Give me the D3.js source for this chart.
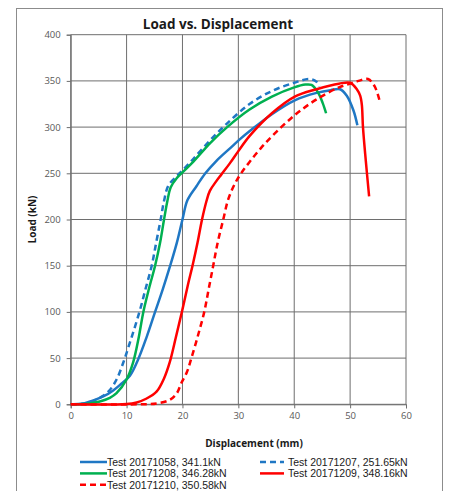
<!DOCTYPE html>
<html><head><meta charset="utf-8">
<script src="https://cdn.jsdelivr.net/npm/d3@7"></script>
<style>body{margin:0;background:#fff}svg{display:block}</style>
</head><body>
<script>
const title = "Load vs. Displacement";
const xTitle = "Displacement (mm)";
const yTitle = "Load (kN)";
const xTicks = [0,10,20,30,40,50,60];
const yTicks = [0,50,100,150,200,250,300,350,400];

const test1058 = [[0,0],[2,0.5],[4,4],[6,9],[7.6,15],[9,22],[10.6,31],[12.1,49],[13.6,73],[15.1,100],[16.5,125],[17.8,150],[19,175],[20,200],[20.9,221],[22.5,236],[24.1,250],[26,263],[28.5,277],[30.3,287],[32.1,296],[36,314],[40.1,329],[44,337],[46.5,340],[48.2,341],[49.4,334],[50.6,318],[51.3,302]];
const test1207 = [[0,0],[2,0.5],[4,3.6],[5.5,8],[7,15.5],[8.3,28],[9.4,45],[10.5,65],[12.3,100],[13.4,125],[14.5,150],[15.3,175],[16.1,200],[16.7,220],[17.5,237],[19,247],[20,253],[22,266],[25,286],[28,304],[32,325],[36,339],[40,348],[42.8,352],[44,349],[44.5,344]];
const test1208 = [[0,0],[3,0.5],[5.2,3],[7,7],[8.2,12],[10,27],[11.2,46],[12.1,70],[13,100],[14,125],[15.1,150],[16,175],[16.7,200],[17.3,220],[17.9,235],[19,245],[20,251],[22,263],[25,283],[28,300],[32,319],[36,333],[40,343],[42,346],[43.1,345.6],[44.3,337],[45.1,326],[45.7,315]];
const test1209 = [[0,0],[10,0.3],[11.8,2],[13.5,6],[15.4,14],[16.7,28],[17.7,45],[18.8,72],[19.9,100],[21,130],[21.8,150],[22.7,175],[23.5,200],[24.3,220],[24.9,231],[26,241],[27,249],[28.5,261],[30,274],[32.1,291],[36,315],[40.1,333],[44,341],[48,347],[50,348],[51.2,341],[51.8,334],[52.1,324],[52.3,300],[52.8,264],[53.4,225]];
const test1210 = [[0,0],[12,0],[15.4,1],[17.8,5],[19,12],[19.8,23],[20.8,35],[21.6,50],[22.8,75],[23.9,100],[24.7,125],[25.5,150],[26.3,175],[27.3,200],[28.2,222],[29.4,239],[30.5,250],[32.1,263],[34,277],[36,290],[40.1,313],[44,330],[48,343],[50,347],[51.5,350],[53.2,352],[54.4,344],[55.3,328]];

const seriesNames = ["Test 20171058, 341.1kN","Test 20171207, 251.65kN","Test 20171208, 346.28kN","Test 20171209, 348.16kN","Test 20171210, 350.58kN"];
const seriesData = [test1058, test1207, test1208, test1209, test1210];
const seriesColors = ["#1F77C4","#1F77C4","#00B050","#FF0000","#FF0000"];
const seriesDashed = [false,true,false,false,true];

const W = 450, H = 491;
const svg = d3.select("body").append("svg").attr("width", W).attr("height", H);
svg.append("rect").attr("x",16.5).attr("y",8.5).attr("width",426).attr("height",500)
  .attr("fill","#fff").attr("stroke","#8c8c8c").attr("stroke-width",1);

const x = d3.scaleLinear().domain([0,60]).range([70.7,406]);
const y = d3.scaleLinear().domain([0,400]).range([404.3,34.7]);

const g = svg.append("g");
g.selectAll(".vg").data(xTicks).join("line")
  .attr("x1",d=>x(d)).attr("x2",d=>x(d)).attr("y1",y(0)).attr("y2",y(400))
  .attr("stroke","#6e6e6e").attr("stroke-width",1);
g.selectAll(".hg").data(yTicks).join("line")
  .attr("x1",x(0)).attr("x2",x(60)).attr("y1",d=>y(d)).attr("y2",d=>y(d))
  .attr("stroke","#6e6e6e").attr("stroke-width",1);

const xAxis = d3.axisBottom(x).tickValues(xTicks).tickSize(4).tickPadding(4);
const yAxis = d3.axisLeft(y).tickValues(yTicks).tickSize(4).tickPadding(6);
const gx = svg.append("g").attr("transform",`translate(0,${y(0)})`).call(xAxis);
const gy = svg.append("g").attr("transform",`translate(${x(0)},0)`).call(yAxis);
[gx,gy].forEach(a=>{
  a.select(".domain").attr("stroke","#6e6e6e");
  a.selectAll(".tick line").attr("stroke","#6e6e6e");
  a.selectAll("text").attr("fill","#595959").style("font-family","'Open Sans',sans-serif").style("font-size","9.5px");
});

const line = d3.line().x(d=>x(d[0])).y(d=>y(d[1])).curve(d3.curveCatmullRom.alpha(0.5));
seriesData.forEach((s,i)=>{
  svg.append("path").datum(s).attr("d",line).attr("fill","none")
    .attr("stroke",seriesColors[i]).attr("stroke-width",2.5)
    .attr("stroke-linejoin","round")
    .attr("stroke-dasharray",seriesDashed[i]?"6,4":null);
});

svg.append("text").attr("x",218).attr("y",29).attr("text-anchor","middle")
  .style("font-family","'Open Sans',sans-serif").style("font-weight","bold").style("font-size","13.5px")
  .attr("fill","#1a1a1a").text(title);
svg.append("text").attr("x",254).attr("y",446.5).attr("text-anchor","middle")
  .style("font-family","'Open Sans',sans-serif").style("font-weight","bold").style("font-size","10px")
  .attr("fill","#1a1a1a").text(xTitle);
svg.append("text").attr("transform",`translate(36,219.5) rotate(-90)`).attr("text-anchor","middle")
  .style("font-family","'Open Sans',sans-serif").style("font-weight","bold").style("font-size","10px")
  .attr("fill","#1a1a1a").text(yTitle);

const legPos = [[80,462],[260,462],[80,473.4],[260,473.4],[80,484.8]];
seriesNames.forEach((n,i)=>{
  const [lx,ly] = legPos[i];
  const lw = i%2===0 ? 27 : 24;
  svg.append("line").attr("x1",lx).attr("x2",lx+lw).attr("y1",ly).attr("y2",ly)
    .attr("stroke",seriesColors[i]).attr("stroke-width",2.5)
    .attr("stroke-dasharray",seriesDashed[i]?"6,4":null);
  svg.append("text").attr("x",lx+lw+(i%2===0?0:4)).attr("y",ly+3.7)
    .style("font-family","'Liberation Sans',Arial,sans-serif").style("font-size","10.5px")
    .attr("fill","#1a1a1a").text(n);
});
</script>
</body></html>
